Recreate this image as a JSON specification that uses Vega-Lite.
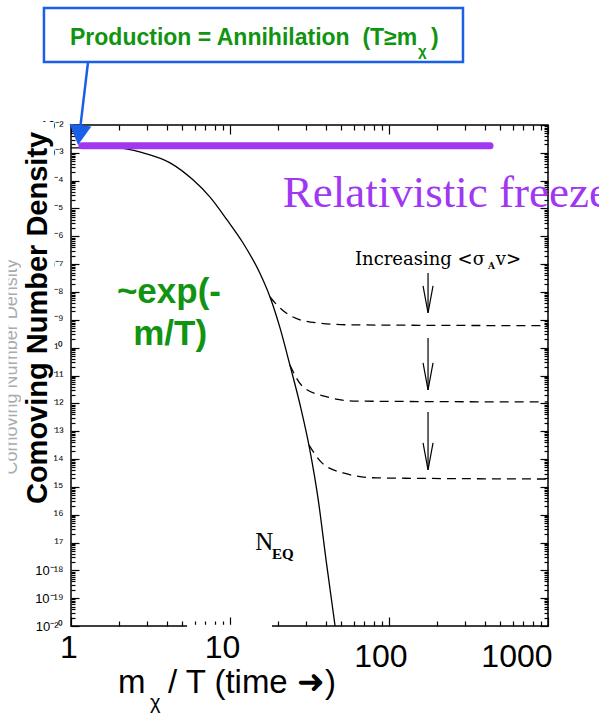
{
  "$schema": "https://vega.github.io/schema/vega-lite/v6.json",
  "width": 477,
  "height": 501,
  "autosize": {"type": "none"},
  "padding": {"left": 71, "top": 125, "right": 51, "bottom": 87},
  "config": {"view": {"stroke": "black", "strokeWidth": 1.5}, "font": "Liberation Sans"},
  "resolve": {"axis": {"x": "independent", "y": "independent"}},
  "datasets": {
    "neq": [
      {"x": 1, "y": 1.514e-3}, {"x": 1.95, "y": 1.514e-3}, {"x": 2.84, "y": 1.0e-3},
      {"x": 4.2, "y": 4.37e-4}, {"x": 5.85, "y": 1.07e-4}, {"x": 7.49, "y": 2.57e-5},
      {"x": 9.58, "y": 3.89e-6}, {"x": 12.08, "y": 5.75e-7}, {"x": 15.4, "y": 4.79e-8},
      {"x": 17.85, "y": 6.61e-9}, {"x": 20.63, "y": 5.13e-10}, {"x": 23.8, "y": 2.40e-11},
      {"x": 27.6, "y": 8.71e-13}, {"x": 31.8, "y": 2.09e-14}, {"x": 35.9, "y": 3.39e-16},
      {"x": 40.2, "y": 2.34e-18}, {"x": 45.8, "y": 1.0e-20}
    ],
    "dashed": [
      {"s": 1, "x": 17.85, "y": 6.61e-9}, {"s": 1, "x": 19.2, "y": 4.07e-9}, {"s": 1, "x": 24.9, "y": 1.26e-9},
      {"s": 1, "x": 35.3, "y": 7.76e-10}, {"s": 1, "x": 56.9, "y": 6.61e-10}, {"s": 1, "x": 1000, "y": 6.17e-10},
      {"s": 2, "x": 23.8, "y": 2.40e-11}, {"s": 2, "x": 28.8, "y": 3.89e-12}, {"s": 2, "x": 40.7, "y": 1.70e-12},
      {"s": 2, "x": 62.9, "y": 1.20e-12}, {"s": 2, "x": 1000, "y": 1.12e-12},
      {"s": 3, "x": 31.4, "y": 3.16e-14}, {"s": 3, "x": 37.9, "y": 7.24e-15}, {"s": 3, "x": 51.4, "y": 3.16e-15},
      {"s": 3, "x": 84.1, "y": 2.09e-15}, {"s": 3, "x": 1000, "y": 1.91e-15}
    ],
    "purple": [{"x": 1.17, "x2": 432, "y": 1.78e-3}],
    "shafts": [
      {"x": 176, "y": 4.79e-8, "y2": 1.78e-9},
      {"x": 176, "y": 2.24e-10, "y2": 3.02e-12},
      {"x": 176, "y": 4.9e-13, "y2": 4.07e-15}
    ],
    "heads": [{"x": 176, "y": 1.78e-9}, {"x": 176, "y": 3.02e-12}, {"x": 176, "y": 4.07e-15}],
    "rects": [
      {"k": "cover", "x": 0.485, "x2": 0.782, "y": 0.0129, "y2": 2.75e-18},
      {"k": "cover", "x": 0.3, "x2": 0.405, "y": 2e-5, "y2": 6.5e-17},
      {"k": "cover", "x": 5.37, "x2": 18.37, "y": 1.12e-20, "y2": 7.2e-21},
      {"k": "box", "x": 0.676, "x2": 292, "y": 160.7, "y2": 1.85}
    ],
    "blueline": [{"x": 1.28, "y": 1.85}, {"x": 1.139, "y": 6.64e-3}],
    "bluehead": [{"x": 1.107, "y": 1.92e-3}],
    "texts": [
      {"k": "box", "x": 0.986, "y": 7.53, "t": "Production = Annihilation \u00a0(T≥m"},
      {"k": "boxsub", "x": 152.2, "y": 3.03, "t": "χ"},
      {"k": "box", "x": 183.8, "y": 7.53, "t": ")"},
      {"k": "relat", "x": 21.5, "y": 1.15e-5, "t": "Relativistic freeze-out"},
      {"k": "exp", "x": 4.13, "y": 4.07e-9, "t": "~exp(-"},
      {"k": "exp", "x": 4.2, "y": 1.26e-10, "t": "m/T)"},
      {"k": "incr", "x": 61.1, "y": 9.33e-8, "t": "Increasing <σ"},
      {"k": "incrsub", "x": 419.5, "y": 6.76e-8, "t": "A"},
      {"k": "incr", "x": 470, "y": 9.33e-8, "t": "v>"},
      {"k": "n", "x": 14.4, "y": 5.37e-18, "t": "N"},
      {"k": "nsub", "x": 18.4, "y": 2.57e-18, "t": "EQ"},
      {"k": "xtick", "x": 0.971, "y": 7.08e-22, "t": "1"},
      {"k": "xtick", "x": 8.97, "y": 7.08e-22, "t": "10"},
      {"k": "xtick", "x": 89, "y": 3.39e-22, "t": "100"},
      {"k": "xtick", "x": 638, "y": 3.39e-22, "t": "1000"},
      {"k": "xtitle", "x": 1.975, "y": 3.89e-23, "t": "m"},
      {"k": "xtitle", "x": 4.07, "y": 3.89e-23, "t": "/ T (time ➜)"},
      {"k": "xsub", "x": 3.14, "y": 1.05e-23, "t": "χ"},
      {"k": "ytitle", "x": 0.706, "y": 1.17e-9, "t": "Comoving Number Density"},
      {"k": "ghost", "x": 0.457, "y": 2.04e-11, "t": "Comoving Number Density"}
    ]
  },
  "layer": [
    {
      "data": {"name": "texts"},
      "transform": [{"filter": "datum.k == 'ghost'"}],
      "mark": {"type": "text", "angle": 270, "align": "center", "baseline": "alphabetic", "fontSize": 18, "color": "#ababab"},
      "encoding": {
        "x": {"field": "x", "type": "quantitative", "scale": {"type": "log", "domain": [1, 1000]}, "axis": null},
        "y": {"field": "y", "type": "quantitative", "scale": {"type": "log", "domain": [1e-20, 1e-2]}, "axis": null},
        "text": {"field": "t"}
      }
    },
    {
      "data": {"name": "neq"},
      "mark": {"type": "line", "color": "black", "strokeWidth": 1.3, "interpolate": "monotone"},
      "encoding": {
        "x": {"field": "x", "type": "quantitative", "scale": {"type": "log", "domain": [1, 1000]},
          "axis": {"orient": "bottom", "title": null, "labels": false, "domain": false, "grid": false,
            "values": [1,2,3,4,5,6,7,8,9,10,20,30,40,50,60,70,80,90,100,200,300,400,500,600,700,800,900,1000],
            "tickColor": "black", "tickWidth": 1.2,
            "tickSize": {"condition": {"test": "abs(log(datum.value)/LN10 - round(log(datum.value)/LN10)) < 0.001", "value": -9}, "value": -5}}},
        "y": {"field": "y", "type": "quantitative", "scale": {"type": "log", "domain": [1e-20, 1e-2]},
          "axis": {"orient": "left", "title": null, "domain": false, "grid": false,
            "values": [1e-20,2e-20,3e-20,4e-20,5e-20,6e-20,7e-20,8e-20,9e-20,1e-19,2e-19,3e-19,4e-19,5e-19,6e-19,7e-19,8e-19,9e-19,1e-18,2e-18,3e-18,4e-18,5e-18,6e-18,7e-18,8e-18,9e-18,1e-17,2e-17,3e-17,4e-17,5e-17,6e-17,7e-17,8e-17,9e-17,1e-16,2e-16,3e-16,4e-16,5e-16,6e-16,7e-16,8e-16,9e-16,1e-15,2e-15,3e-15,4e-15,5e-15,6e-15,7e-15,8e-15,9e-15,1e-14,2e-14,3e-14,4e-14,5e-14,6e-14,7e-14,8e-14,9e-14,1e-13,2e-13,3e-13,4e-13,5e-13,6e-13,7e-13,8e-13,9e-13,1e-12,2e-12,3e-12,4e-12,5e-12,6e-12,7e-12,8e-12,9e-12,1e-11,2e-11,3e-11,4e-11,5e-11,6e-11,7e-11,8e-11,9e-11,1e-10,2e-10,3e-10,4e-10,5e-10,6e-10,7e-10,8e-10,9e-10,1e-9,2e-9,3e-9,4e-9,5e-9,6e-9,7e-9,8e-9,9e-9,1e-8,2e-8,3e-8,4e-8,5e-8,6e-8,7e-8,8e-8,9e-8,1e-7,2e-7,3e-7,4e-7,5e-7,6e-7,7e-7,8e-7,9e-7,1e-6,2e-6,3e-6,4e-6,5e-6,6e-6,7e-6,8e-6,9e-6,1e-5,2e-5,3e-5,4e-5,5e-5,6e-5,7e-5,8e-5,9e-5,1e-4,2e-4,3e-4,4e-4,5e-4,6e-4,7e-4,8e-4,9e-4,1e-3,2e-3,3e-3,4e-3,5e-3,6e-3,7e-3,8e-3,9e-3,1e-2],
            "labelExpr": "abs(log(datum.value)/LN10 - round(log(datum.value)/LN10)) < 0.001 ? ['10⁻²⁰','10⁻¹⁹','10⁻¹⁸','10⁻¹⁷','10⁻¹⁶','10⁻¹⁵','10⁻¹⁴','10⁻¹³','10⁻¹²','10⁻¹¹','10⁻¹⁰','10⁻⁹','10⁻⁸','10⁻⁷','10⁻⁶','10⁻⁵','10⁻⁴','10⁻³','10⁻²'][round(log(datum.value)/LN10) + 20] : ''",
            "labelFontSize": 13, "labelColor": "black", "labelPadding": 16, "labelOverlap": false, "labelFlush": false, "labelBound": false,
            "tickColor": "black", "tickWidth": 1.2,
            "tickSize": {"condition": {"test": "abs(log(datum.value)/LN10 - round(log(datum.value)/LN10)) < 0.001", "value": -8}, "value": -4}}}
      }
    },
    {
      "data": {"name": "dashed"},
      "mark": {"type": "line", "color": "black", "strokeWidth": 1.3, "strokeDash": [9, 6], "interpolate": "monotone"},
      "encoding": {
        "x": {"field": "x", "type": "quantitative", "scale": {"type": "log", "domain": [1, 1000]},
          "axis": {"orient": "top", "title": null, "labels": false, "domain": false, "grid": false,
            "values": [1,2,3,4,5,6,7,8,9,10,20,30,40,50,60,70,80,90,100,200,300,400,500,600,700,800,900,1000],
            "tickColor": "black", "tickWidth": 1.2,
            "tickSize": {"condition": {"test": "abs(log(datum.value)/LN10 - round(log(datum.value)/LN10)) < 0.001", "value": -9}, "value": -5}}},
        "y": {"field": "y", "type": "quantitative", "scale": {"type": "log", "domain": [1e-20, 1e-2]},
          "axis": {"orient": "right", "title": null, "labels": false, "domain": false, "grid": false,
            "values": [1e-20,2e-20,3e-20,4e-20,5e-20,6e-20,7e-20,8e-20,9e-20,1e-19,2e-19,3e-19,4e-19,5e-19,6e-19,7e-19,8e-19,9e-19,1e-18,2e-18,3e-18,4e-18,5e-18,6e-18,7e-18,8e-18,9e-18,1e-17,2e-17,3e-17,4e-17,5e-17,6e-17,7e-17,8e-17,9e-17,1e-16,2e-16,3e-16,4e-16,5e-16,6e-16,7e-16,8e-16,9e-16,1e-15,2e-15,3e-15,4e-15,5e-15,6e-15,7e-15,8e-15,9e-15,1e-14,2e-14,3e-14,4e-14,5e-14,6e-14,7e-14,8e-14,9e-14,1e-13,2e-13,3e-13,4e-13,5e-13,6e-13,7e-13,8e-13,9e-13,1e-12,2e-12,3e-12,4e-12,5e-12,6e-12,7e-12,8e-12,9e-12,1e-11,2e-11,3e-11,4e-11,5e-11,6e-11,7e-11,8e-11,9e-11,1e-10,2e-10,3e-10,4e-10,5e-10,6e-10,7e-10,8e-10,9e-10,1e-9,2e-9,3e-9,4e-9,5e-9,6e-9,7e-9,8e-9,9e-9,1e-8,2e-8,3e-8,4e-8,5e-8,6e-8,7e-8,8e-8,9e-8,1e-7,2e-7,3e-7,4e-7,5e-7,6e-7,7e-7,8e-7,9e-7,1e-6,2e-6,3e-6,4e-6,5e-6,6e-6,7e-6,8e-6,9e-6,1e-5,2e-5,3e-5,4e-5,5e-5,6e-5,7e-5,8e-5,9e-5,1e-4,2e-4,3e-4,4e-4,5e-4,6e-4,7e-4,8e-4,9e-4,1e-3,2e-3,3e-3,4e-3,5e-3,6e-3,7e-3,8e-3,9e-3,1e-2],
            "tickColor": "black", "tickWidth": 1.2,
            "tickSize": {"condition": {"test": "abs(log(datum.value)/LN10 - round(log(datum.value)/LN10)) < 0.001", "value": -8}, "value": -4}}},
        "detail": {"field": "s", "type": "nominal"}
      }
    },
    {
      "data": {"name": "rects"},
      "transform": [{"filter": "datum.k == 'cover'"}],
      "mark": {"type": "rect", "fill": "white"},
      "encoding": {
        "x": {"field": "x", "type": "quantitative", "scale": {"type": "log", "domain": [1, 1000]}, "axis": null},
        "x2": {"field": "x2"},
        "y": {"field": "y", "type": "quantitative", "scale": {"type": "log", "domain": [1e-20, 1e-2]}, "axis": null},
        "y2": {"field": "y2"}
      }
    },
    {
      "data": {"name": "texts"},
      "transform": [{"filter": "datum.k == 'ytitle'"}],
      "mark": {"type": "text", "angle": 270, "align": "center", "baseline": "alphabetic", "fontSize": 29, "fontWeight": "bold", "color": "black"},
      "encoding": {
        "x": {"field": "x", "type": "quantitative", "scale": {"type": "log", "domain": [1, 1000]}, "axis": null},
        "y": {"field": "y", "type": "quantitative", "scale": {"type": "log", "domain": [1e-20, 1e-2]}, "axis": null},
        "text": {"field": "t"}
      }
    },
    {
      "data": {"name": "purple"},
      "mark": {"type": "rule", "color": "#a038f2", "strokeWidth": 7, "strokeCap": "round"},
      "encoding": {
        "x": {"field": "x", "type": "quantitative", "scale": {"type": "log", "domain": [1, 1000]}, "axis": null},
        "x2": {"field": "x2"},
        "y": {"field": "y", "type": "quantitative", "scale": {"type": "log", "domain": [1e-20, 1e-2]}, "axis": null}
      }
    },
    {
      "data": {"name": "shafts"},
      "mark": {"type": "rule", "color": "black", "strokeWidth": 1.2},
      "encoding": {
        "x": {"field": "x", "type": "quantitative", "scale": {"type": "log", "domain": [1, 1000]}, "axis": null},
        "y": {"field": "y", "type": "quantitative", "scale": {"type": "log", "domain": [1e-20, 1e-2]}, "axis": null},
        "y2": {"field": "y2"}
      }
    },
    {
      "data": {"name": "heads"},
      "mark": {"type": "point", "shape": "M-0.37,-2L0,0L0.37,-2", "size": 729, "filled": false, "stroke": "black", "strokeWidth": 1.2, "opacity": 1},
      "encoding": {
        "x": {"field": "x", "type": "quantitative", "scale": {"type": "log", "domain": [1, 1000]}, "axis": null},
        "y": {"field": "y", "type": "quantitative", "scale": {"type": "log", "domain": [1e-20, 1e-2]}, "axis": null}
      }
    },
    {
      "data": {"name": "texts"},
      "transform": [{"filter": "datum.k == 'relat'"}],
      "mark": {"type": "text", "align": "left", "baseline": "alphabetic", "font": "Liberation Serif", "fontSize": 45, "color": "#a038f2"},
      "encoding": {
        "x": {"field": "x", "type": "quantitative", "scale": {"type": "log", "domain": [1, 1000]}, "axis": null},
        "y": {"field": "y", "type": "quantitative", "scale": {"type": "log", "domain": [1e-20, 1e-2]}, "axis": null},
        "text": {"field": "t"}
      }
    },
    {
      "data": {"name": "texts"},
      "transform": [{"filter": "datum.k == 'exp'"}],
      "mark": {"type": "text", "align": "center", "baseline": "alphabetic", "fontSize": 35, "fontWeight": "bold", "color": "#119411"},
      "encoding": {
        "x": {"field": "x", "type": "quantitative", "scale": {"type": "log", "domain": [1, 1000]}, "axis": null},
        "y": {"field": "y", "type": "quantitative", "scale": {"type": "log", "domain": [1e-20, 1e-2]}, "axis": null},
        "text": {"field": "t"}
      }
    },
    {
      "data": {"name": "texts"},
      "transform": [{"filter": "datum.k == 'incr'"}],
      "mark": {"type": "text", "align": "left", "baseline": "alphabetic", "font": "DejaVu Serif", "fontSize": 18, "color": "black"},
      "encoding": {
        "x": {"field": "x", "type": "quantitative", "scale": {"type": "log", "domain": [1, 1000]}, "axis": null},
        "y": {"field": "y", "type": "quantitative", "scale": {"type": "log", "domain": [1e-20, 1e-2]}, "axis": null},
        "text": {"field": "t"}
      }
    },
    {
      "data": {"name": "texts"},
      "transform": [{"filter": "datum.k == 'incrsub'"}],
      "mark": {"type": "text", "align": "left", "baseline": "alphabetic", "font": "DejaVu Serif", "fontSize": 9, "fontWeight": "bold", "color": "black"},
      "encoding": {
        "x": {"field": "x", "type": "quantitative", "scale": {"type": "log", "domain": [1, 1000]}, "axis": null},
        "y": {"field": "y", "type": "quantitative", "scale": {"type": "log", "domain": [1e-20, 1e-2]}, "axis": null},
        "text": {"field": "t"}
      }
    },
    {
      "data": {"name": "texts"},
      "transform": [{"filter": "datum.k == 'n'"}],
      "mark": {"type": "text", "align": "left", "baseline": "alphabetic", "font": "Liberation Serif", "fontSize": 25, "color": "black"},
      "encoding": {
        "x": {"field": "x", "type": "quantitative", "scale": {"type": "log", "domain": [1, 1000]}, "axis": null},
        "y": {"field": "y", "type": "quantitative", "scale": {"type": "log", "domain": [1e-20, 1e-2]}, "axis": null},
        "text": {"field": "t"}
      }
    },
    {
      "data": {"name": "texts"},
      "transform": [{"filter": "datum.k == 'nsub'"}],
      "mark": {"type": "text", "align": "left", "baseline": "alphabetic", "font": "Liberation Serif", "fontSize": 15, "fontWeight": "bold", "color": "black"},
      "encoding": {
        "x": {"field": "x", "type": "quantitative", "scale": {"type": "log", "domain": [1, 1000]}, "axis": null},
        "y": {"field": "y", "type": "quantitative", "scale": {"type": "log", "domain": [1e-20, 1e-2]}, "axis": null},
        "text": {"field": "t"}
      }
    },
    {
      "data": {"name": "texts"},
      "transform": [{"filter": "datum.k == 'xtick'"}],
      "mark": {"type": "text", "align": "center", "baseline": "alphabetic", "fontSize": 32, "color": "black"},
      "encoding": {
        "x": {"field": "x", "type": "quantitative", "scale": {"type": "log", "domain": [1, 1000]}, "axis": null},
        "y": {"field": "y", "type": "quantitative", "scale": {"type": "log", "domain": [1e-20, 1e-2]}, "axis": null},
        "text": {"field": "t"}
      }
    },
    {
      "data": {"name": "texts"},
      "transform": [{"filter": "datum.k == 'xtitle'"}],
      "mark": {"type": "text", "align": "left", "baseline": "alphabetic", "fontSize": 33, "color": "black"},
      "encoding": {
        "x": {"field": "x", "type": "quantitative", "scale": {"type": "log", "domain": [1, 1000]}, "axis": null},
        "y": {"field": "y", "type": "quantitative", "scale": {"type": "log", "domain": [1e-20, 1e-2]}, "axis": null},
        "text": {"field": "t"}
      }
    },
    {
      "data": {"name": "texts"},
      "transform": [{"filter": "datum.k == 'xsub'"}],
      "mark": {"type": "text", "align": "left", "baseline": "alphabetic", "fontSize": 20, "color": "black"},
      "encoding": {
        "x": {"field": "x", "type": "quantitative", "scale": {"type": "log", "domain": [1, 1000]}, "axis": null},
        "y": {"field": "y", "type": "quantitative", "scale": {"type": "log", "domain": [1e-20, 1e-2]}, "axis": null},
        "text": {"field": "t"}
      }
    },
    {
      "data": {"name": "rects"},
      "transform": [{"filter": "datum.k == 'box'"}],
      "mark": {"type": "rect", "fill": "white", "stroke": "#1a5fe8", "strokeWidth": 2.5},
      "encoding": {
        "x": {"field": "x", "type": "quantitative", "scale": {"type": "log", "domain": [1, 1000]}, "axis": null},
        "x2": {"field": "x2"},
        "y": {"field": "y", "type": "quantitative", "scale": {"type": "log", "domain": [1e-20, 1e-2]}, "axis": null},
        "y2": {"field": "y2"}
      }
    },
    {
      "data": {"name": "texts"},
      "transform": [{"filter": "datum.k == 'box'"}],
      "mark": {"type": "text", "align": "left", "baseline": "alphabetic", "fontSize": 23, "fontWeight": "bold", "color": "#119411"},
      "encoding": {
        "x": {"field": "x", "type": "quantitative", "scale": {"type": "log", "domain": [1, 1000]}, "axis": null},
        "y": {"field": "y", "type": "quantitative", "scale": {"type": "log", "domain": [1e-20, 1e-2]}, "axis": null},
        "text": {"field": "t"}
      }
    },
    {
      "data": {"name": "texts"},
      "transform": [{"filter": "datum.k == 'boxsub'"}],
      "mark": {"type": "text", "align": "left", "baseline": "alphabetic", "fontSize": 15, "fontWeight": "bold", "color": "#119411"},
      "encoding": {
        "x": {"field": "x", "type": "quantitative", "scale": {"type": "log", "domain": [1, 1000]}, "axis": null},
        "y": {"field": "y", "type": "quantitative", "scale": {"type": "log", "domain": [1e-20, 1e-2]}, "axis": null},
        "text": {"field": "t"}
      }
    },
    {
      "data": {"name": "blueline"},
      "mark": {"type": "line", "color": "#1a5fe8", "strokeWidth": 2.5},
      "encoding": {
        "x": {"field": "x", "type": "quantitative", "scale": {"type": "log", "domain": [1, 1000]}, "axis": null},
        "y": {"field": "y", "type": "quantitative", "scale": {"type": "log", "domain": [1e-20, 1e-2]}, "axis": null}
      }
    },
    {
      "data": {"name": "bluehead"},
      "mark": {"type": "point", "shape": "M-1.1,-2L1.1,-2L0,0Z", "size": 400, "filled": true, "color": "#1a5fe8", "opacity": 1, "angle": 7},
      "encoding": {
        "x": {"field": "x", "type": "quantitative", "scale": {"type": "log", "domain": [1, 1000]}, "axis": null},
        "y": {"field": "y", "type": "quantitative", "scale": {"type": "log", "domain": [1e-20, 1e-2]}, "axis": null}
      }
    }
  ]
}
